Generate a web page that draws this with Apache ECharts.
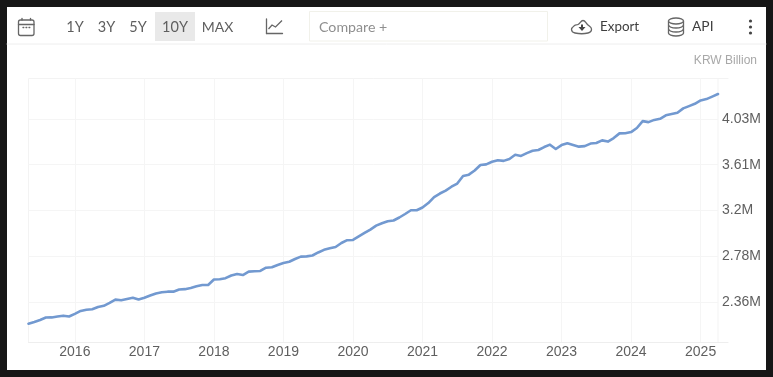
<!DOCTYPE html>
<html><head><meta charset="utf-8">
<style>html,body{margin:0;padding:0;background:#161616;overflow:hidden}#c{width:773px;height:377px;filter:blur(0.6px)}</style>
<script src="https://cdn.jsdelivr.net/npm/echarts@6/dist/echarts.min.js"></script>
</head><body><div id="c"></div>
<script>
const startYear = 2015, startMonth = 4;
const valuesMillions = [2.162,2.178,2.196,2.218,2.219,2.227,2.235,2.227,
2.251,2.278,2.289,2.293,2.314,2.325,2.351,2.381,2.376,2.387,2.399,2.382,
2.398,2.419,2.438,2.449,2.454,2.454,2.474,2.477,2.488,2.503,2.515,2.515,
2.565,2.568,2.577,2.602,2.615,2.606,2.637,2.640,2.643,2.673,2.677,2.698,
2.716,2.727,2.752,2.774,2.776,2.784,2.812,2.836,2.850,2.862,2.898,2.924,
2.926,2.958,2.990,3.021,3.057,3.079,3.097,3.104,3.131,3.163,3.197,3.197,
3.222,3.263,3.318,3.350,3.377,3.412,3.441,3.510,3.522,3.560,3.610,3.616,
3.640,3.654,3.648,3.665,3.704,3.693,3.719,3.740,3.747,3.774,3.796,3.756,
3.792,3.809,3.794,3.778,3.783,3.806,3.811,3.835,3.824,3.856,3.899,3.900,
3.911,3.948,4.011,4.002,4.022,4.032,4.064,4.075,4.087,4.127,4.148,4.169,
4.200,4.212,4.235,4.258];
const yearTicks = [2016,2017,2018,2019,2020,2021,2022,2023,2024,2025];
const yTicks = [2.36,2.78,3.195,3.613,4.03];
const yLabels = ['2.36M','2.78M','3.2M','3.61M','4.03M'];
const rangeButtons = ['1Y','3Y','5Y','10Y','MAX'];
const unitLabel = 'KRW Billion';

const seriesData = valuesMillions.map((v,i)=>[startYear+(startMonth+i)/12,v]);
const ui='Lato, "Open Sans", sans-serif';
const ink='#5f5f5f', icon='#666666';
const rbX=[75,106.5,138,175,217.5];
const line=(x1,y1,x2,y2,c=icon,w=1.3)=>({type:'line',silent:true,shape:{x1,y1,x2,y2},style:{stroke:c,lineWidth:w,lineCap:'round'}});
const txt=(t,x,y,size,fill,align='center',family=ui)=>({type:'text',silent:true,x,y,style:{text:t,x:0,y:0,fill,font:size+'px '+family,textAlign:align,textVerticalAlign:'middle'}});
const ell=(cx,cy,rx,ry)=>({type:'ellipse',silent:true,shape:{cx,cy,rx,ry},style:{fill:'#fff',stroke:icon,lineWidth:1.3}});
const rib=(y)=>({type:'bezierCurve',silent:true,shape:{x1:668.5,y1:y,cpx1:670,cpy1:y+4,cpx2:682,cpy2:y+4,x2:683.5,y2:y},style:{fill:'none',stroke:icon,lineWidth:1.3}});
const els=[
 {type:'rect',silent:true,z:-10,shape:{x:7,y:7,width:759,height:363},style:{fill:'#fff'}},
 line(7,44,766,44,'#eeeeee',1),
 {type:'rect',silent:true,z:-5,shape:{x:155,y:12,width:40,height:29},style:{fill:'#e9e9e9'}},
 {type:'rect',silent:true,shape:{x:309.5,y:11.5,width:238,height:29.5},style:{fill:'#fff',stroke:'#f1f1ea',lineWidth:1}},
 txt('Compare +',319,27.5,14.2,'#8f8f8f','left'),
 txt('Export',600,27,13.4,'#3f3f3f','left'),
 txt('API',692,27,13.8,'#3f3f3f','left'),
 txt(unitLabel,757,60.5,12,'#a8a8a8','right','"Liberation Sans", Arial, sans-serif'),
 {type:'rect',silent:true,shape:{x:18.5,y:20,width:15.5,height:15.5,r:2},style:{fill:'#fff',stroke:icon,lineWidth:1.3}},
 line(18.5,24.5,34,24.5), line(22,18.5,22,20), line(30.5,18.5,30.5,20),
 line(23,27.5,23.8,27.5), line(26,27.5,26.8,27.5), line(29,27.5,29.8,27.5),
 line(266.5,19,266.5,33.5), line(266.5,33.5,282.5,33.5),
 {type:'polyline',silent:true,shape:{points:[[268.5,29],[272,25],[275.5,27],[282,20.5]]},style:{fill:'none',stroke:icon,lineWidth:1.3}},
 {type:'polygon',silent:true,shape:{smooth:0.45,points:[[575,33],[571.5,29.5],[574.5,25.5],[578,24.5],[583,20.5],[587.5,24.5],[591.5,29],[588,33]]},style:{fill:'#fff',stroke:icon,lineWidth:1.3}},
 {type:'polygon',silent:true,shape:{points:[[581,24.5],[583,24.5],[583,27],[585.5,27],[582,31],[578.5,27],[581,27]]},style:{fill:'#444'}},
 ell(676,33,7.5,3), {type:'rect',silent:true,shape:{x:668.5,y:21,width:15,height:12},style:{fill:'#fff'}},
 line(668.5,21,668.5,33), line(683.5,21,683.5,33),
 rib(25), rib(29),
 ell(676,21,7.5,3),
 ...[21,27,33].map(y=>({type:'circle',silent:true,shape:{cx:750.5,cy:y,r:1.6},style:{fill:'#444'}})),
 line(718,78.5,728,78.5,'#f3f3f3',1), line(718,342.5,728,342.5,'#eeeeee',1),
 ...rangeButtons.map((t,i)=>txt(t,rbX[i],27.5,t==='MAX'?14:14.5,ink))
];
const chart=echarts.init(document.getElementById('c'),null,{renderer:'canvas'});
chart.setOption({
 animation:false, backgroundColor:'#161616',
 graphic:{elements:els},
 grid:{left:28.5,right:55,top:78.5,bottom:34.5,show:true,borderColor:'#f3f3f3',borderWidth:1,backgroundColor:'transparent'},
 xAxis:{type:'value',min:startYear+startMonth/12,max:2025.25,
  axisLine:{show:true,onZero:false,lineStyle:{color:'#eeeeee'}},axisTick:{show:false,customValues:yearTicks},
  splitLine:{show:true,lineStyle:{color:'#f5f5f5',type:'solid'}},
  axisLabel:{customValues:yearTicks,margin:3,color:'#5f5f5f',fontSize:14,fontFamily:'"Liberation Sans", Arial, sans-serif',
   formatter:v=>String(v)}},
 yAxis:{type:'value',position:'right',min:1.99,max:4.4,
  axisLine:{show:false},axisTick:{show:false,customValues:yTicks},
  splitLine:{show:true,lineStyle:{color:'#f5f5f5',type:'solid'}},
  axisLabel:{customValues:yTicks,margin:4,color:'#5f5f5f',fontSize:14,fontFamily:'"Liberation Sans", Arial, sans-serif',padding:[0,0,8,0],
   formatter:v=>yLabels[yTicks.indexOf(v)]}},
 series:[{type:'line',data:seriesData,showSymbol:false,smooth:false,z:5,clip:false,
  lineStyle:{color:'#7299d0',width:2.6,join:'round',cap:'round'}}]
});
</script></body></html>
